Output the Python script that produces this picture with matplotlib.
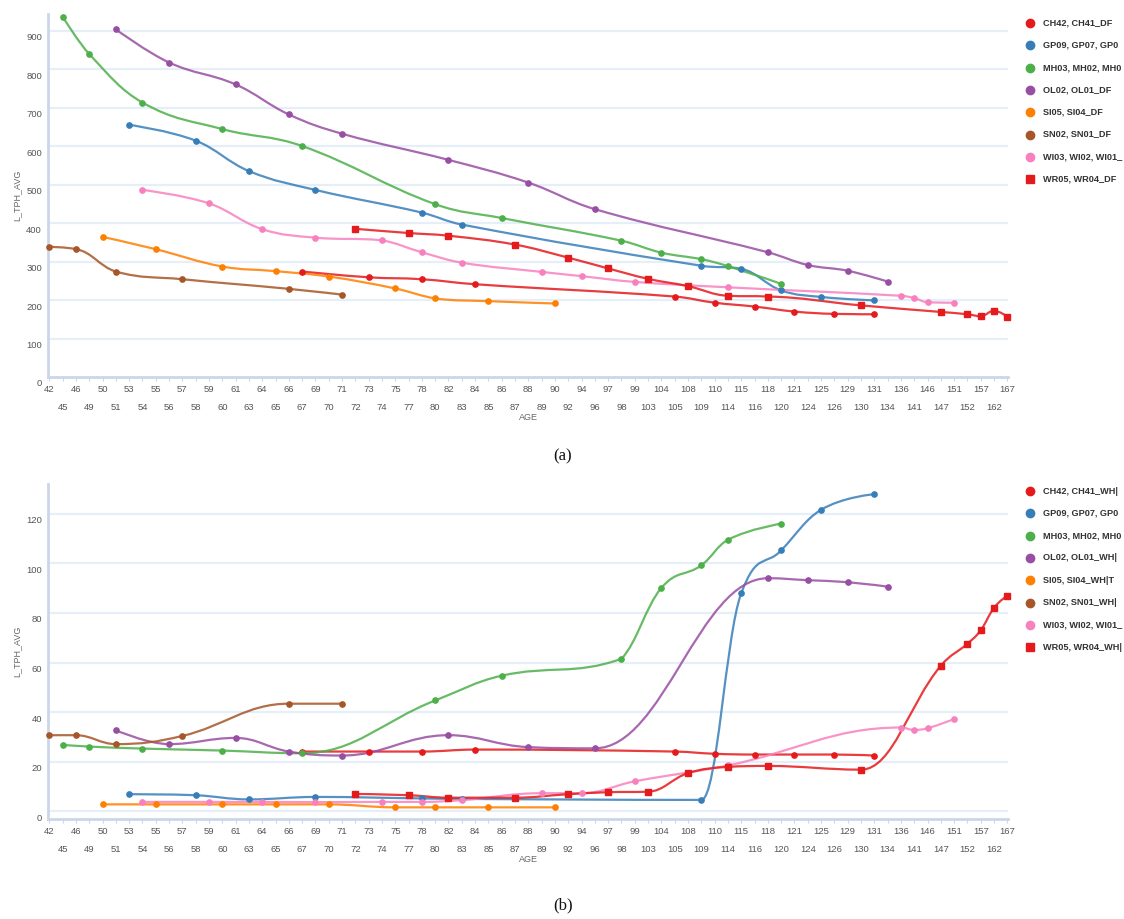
import numpy as np
import matplotlib
matplotlib.use("Agg")
import matplotlib.pyplot as plt
from matplotlib.path import Path
from matplotlib.patches import PathPatch
from matplotlib.transforms import blended_transform_factory, ScaledTranslation

plt.rcParams['font.family'] = ['Liberation Sans', 'DejaVu Sans']

# x categories (AGE)
ages = [42, 45, 46, 49, 50, 51, 53, 54, 55, 56, 57, 58, 59, 60, 61, 63, 64, 65, 66, 67,
        69, 70, 71, 72, 73, 74, 75, 77, 78, 80, 82, 83, 84, 85, 86, 87, 88, 89, 90, 92,
        94, 96, 97, 98, 99, 103, 104, 105, 108, 109, 110, 114, 115, 116, 118, 120, 121,
        124, 125, 126, 129, 130, 131, 134, 136, 141, 146, 147, 151, 152, 157, 162, 167]

# ages at which each series has points
ch_age = [67, 73, 78, 84, 105, 110, 116, 121, 126, 131]
gp_age = [53, 58, 63, 69, 78, 83, 109, 115, 120, 125, 131]
mh_age = [45, 49, 54, 60, 67, 80, 86, 98, 104, 109, 114, 120]
ol_age = [51, 56, 61, 66, 71, 82, 88, 96, 118, 124, 129, 134]
si_age = [50, 55, 60, 65, 70, 75, 80, 85, 90]
sn_age = [42, 46, 51, 57, 66, 71]
wi_age = [54, 59, 64, 69, 74, 78, 83, 89, 94, 99, 114, 136, 141, 146, 151]
wr_age = [72, 77, 82, 87, 92, 97, 103, 108, 114, 118, 130, 147, 152, 157, 162, 167]

# panel (a) values
ch_df = [274, 259, 254, 241, 209, 193, 183, 170, 164, 163]
gp_df = [655, 614, 535, 486, 427, 396, 289, 281, 225, 208, 199]
mh_df = [936, 839, 713, 644, 600, 449, 413, 354, 323, 306, 288, 242]
ol_df = [903, 817, 760, 682, 632, 564, 505, 436, 324, 291, 276, 248]
si_df = [364, 332, 287, 275, 261, 230, 204, 197, 191]
sn_df = [338, 332, 274, 254, 229, 214]
wi_df = [486, 451, 384, 362, 355, 324, 297, 273, 262, 247, 233, 211, 205, 194, 193]
wr_df = [385, 374, 367, 344, 310, 282, 255, 236, 211, 209, 186, 169, 163, 158, 172, 157]

# panel (b) values
ch_wh = [24.1, 24.1, 24.1, 24.9, 24.1, 23.2, 22.9, 22.9, 22.9, 22.5]
gp_wh = [6.9, 6.5, 4.8, 5.8, 5.2, 5.0, 4.6, 87.9, 105.2, 121.6, 127.9]
mh_wh = [26.8, 26.1, 25.3, 24.5, 23.4, 44.7, 54.7, 61.5, 90.1, 99.2, 109.5, 116.0]
ol_wh = [32.7, 27.1, 29.6, 24.1, 22.5, 30.7, 25.9, 25.4, 94.0, 93.2, 92.4, 90.6]
si_wh = [2.8, 2.8, 2.8, 2.8, 2.8, 1.6, 1.6, 1.6, 1.6]
sn_wh = [30.7, 30.7, 27.1, 30.4, 43.4, 43.4]
wi_wh = [3.8, 3.8, 3.8, 3.7, 3.8, 3.8, 4.5, 7.3, 7.3, 12.1, 18.5, 33.8, 32.8, 33.5, 37.2]
wr_wh = [7.0, 6.5, 5.5, 5.5, 6.9, 7.7, 7.9, 15.4, 17.9, 18.3, 16.8, 58.7, 67.6, 73.0, 82.1, 87.0]

labels_a = ["CH42, CH41_DF", "GP09, GP07, GP0", "MH03, MH02, MH0", "OL02, OL01_DF",
            "SI05, SI04_DF", "SN02, SN01_DF", "WI03, WI02, WI01_", "WR05, WR04_DF"]
labels_b = ["CH42, CH41_WH|", "GP09, GP07, GP0", "MH03, MH02, MH0", "OL02, OL01_WH|",
            "SI05, SI04_WH|T", "SN02, SN01_WH|", "WI03, WI02, WI01_", "WR05, WR04_WH|"]
colors = ['#e41a1c', '#377eb8', '#4daf4a', '#984ea3', '#ff7f00', '#a65628', '#f781bf', '#e41a1c']
markers = ['o', 'o', 'o', 'o', 'o', 'o', 'o', 's']
series_age = [ch_age, gp_age, mh_age, ol_age, si_age, sn_age, wi_age, wr_age]


def spline_path(xs, ys):
    # highcharts-like spline through the points
    sm = 1.5
    n = len(xs)
    verts = [(xs[0], ys[0])]
    codes = [Path.MOVETO]
    rc = [None] * n
    for i in range(1, n):
        px, py = xs[i], ys[i]
        lx, ly = xs[i - 1], ys[i - 1]
        lcx, lcy = px, py
        if i < n - 1:
            nx, ny = xs[i + 1], ys[i + 1]
            lcx = (sm * px + lx) / (sm + 1)
            lcy = (sm * py + ly) / (sm + 1)
            rcx = (sm * px + nx) / (sm + 1)
            rcy = (sm * py + ny) / (sm + 1)
            corr = (rcy - lcy) * (rcx - px) / (rcx - lcx) + py - rcy
            lcy += corr
            rcy += corr
            if lcy > ly and lcy > py:
                lcy = max(ly, py)
                rcy = 2 * py - lcy
            elif lcy < ly and lcy < py:
                lcy = min(ly, py)
                rcy = 2 * py - lcy
            if rcy > ny and rcy > py:
                rcy = max(ny, py)
                lcy = 2 * py - rcy
            elif rcy < ny and rcy < py:
                rcy = min(ny, py)
                lcy = 2 * py - rcy
            rc[i] = (rcx, rcy)
        prev = rc[i - 1] if rc[i - 1] is not None else (lx, ly)
        verts += [prev, (lcx, lcy), (px, py)]
        codes += [Path.CURVE4] * 3
    return Path(verts, codes)


W, H = 1124, 919
fig = plt.figure(figsize=(W / 100, H / 100), dpi=100)


def draw_panel(top, bottom, values, labels, ymax, ymin, ystep, leg_y):
    ax = fig.add_axes([48 / W, (H - bottom) / H, 960 / W, (bottom - top) / H])
    ax.set_xlim(-0.1, len(ages) - 0.95)
    ax.set_ylim(ymin, ymax)
    for s in ['top', 'right']:
        ax.spines[s].set_visible(False)
    for s in ['left', 'bottom']:
        ax.spines[s].set_color('#ccd6eb')
        ax.spines[s].set_linewidth(2)
    yt = np.arange(0, ymax, ystep)
    for v in yt:
        if v > ymin or ymin < 0:
            ax.axhline(v, color='#e6eef8', lw=1.6, zorder=0)
    ax.set_yticks([])
    trans = blended_transform_factory(ax.transAxes, ax.transData) + \
        ScaledTranslation(-0.06, -0.07, fig.dpi_scale_trans)
    for v in yt:
        ax.text(0, v, str(int(v)), transform=trans, ha='right', va='center',
                fontsize=6.8, color='#555555')
    idx = np.arange(len(ages))
    ax.set_xticks(idx[::2], [str(a) for a in ages[::2]])
    ax.set_xticks(idx[1::2], [str(a) for a in ages[1::2]], minor=True)
    ax.tick_params(axis='x', which='major', length=3, width=0.8, color='#ccd6eb',
                   pad=3, labelsize=6.8, labelcolor='#555555')
    ax.tick_params(axis='x', which='minor', length=3, width=0.8, color='#ccd6eb',
                   pad=15.5, labelsize=6.8, labelcolor='#555555')
    ax.set_xlabel('AGE', fontsize=6.5, color='#666666', labelpad=1)
    ax.set_ylabel('L_TPH_AVG', fontsize=6.5, color='#666666')
    ax.yaxis.set_label_coords(-27 / 960, 0.5)

    for k in range(len(values)):
        xs = [ages.index(a) for a in series_age[k]]
        ys = values[k]
        p = spline_path(xs, ys)
        ax.add_patch(PathPatch(p, facecolor='none', edgecolor=colors[k], lw=1.6,
                               alpha=0.85, zorder=3, clip_on=False))
        ms = 4.5 if markers[k] == 's' else 3.8
        ax.plot(xs, ys, linestyle='none', marker=markers[k], ms=ms,
                color=colors[k], zorder=4, clip_on=False)
        # legend entry
        yy = 1 - (leg_y + 22.3 * k) / H
        fig.lines.append(plt.Line2D([1030 / W], [yy], marker=markers[k],
                                    ms=6 if markers[k] == 'o' else 5.5,
                                    color=colors[k], linestyle='none',
                                    transform=fig.transFigure))
        fig.text(1043 / W, yy, labels[k], fontsize=6.6, color='#333333',
                 va='center', ha='left', fontweight='bold')
    return ax


vals_a = [ch_df, gp_df, mh_df, ol_df, si_df, sn_df, wi_df, wr_df]
vals_b = [ch_wh, gp_wh, mh_wh, ol_wh, si_wh, sn_wh, wi_wh, wr_wh]

draw_panel(14, 377, vals_a, labels_a, 943, 0, 100, 23)
draw_panel(484, 819, vals_b, labels_b, 132, -3.1, 20, 491)

fig.text(563 / W, 1 - 456 / H, '(a)', fontsize=12, family='Liberation Serif',
         ha='center', va='center', color='#111111')
fig.text(563 / W, 1 - 905 / H, '(b)', fontsize=12, family='Liberation Serif',
         ha='center', va='center', color='#111111')

fig.savefig('out.png', dpi=100)
